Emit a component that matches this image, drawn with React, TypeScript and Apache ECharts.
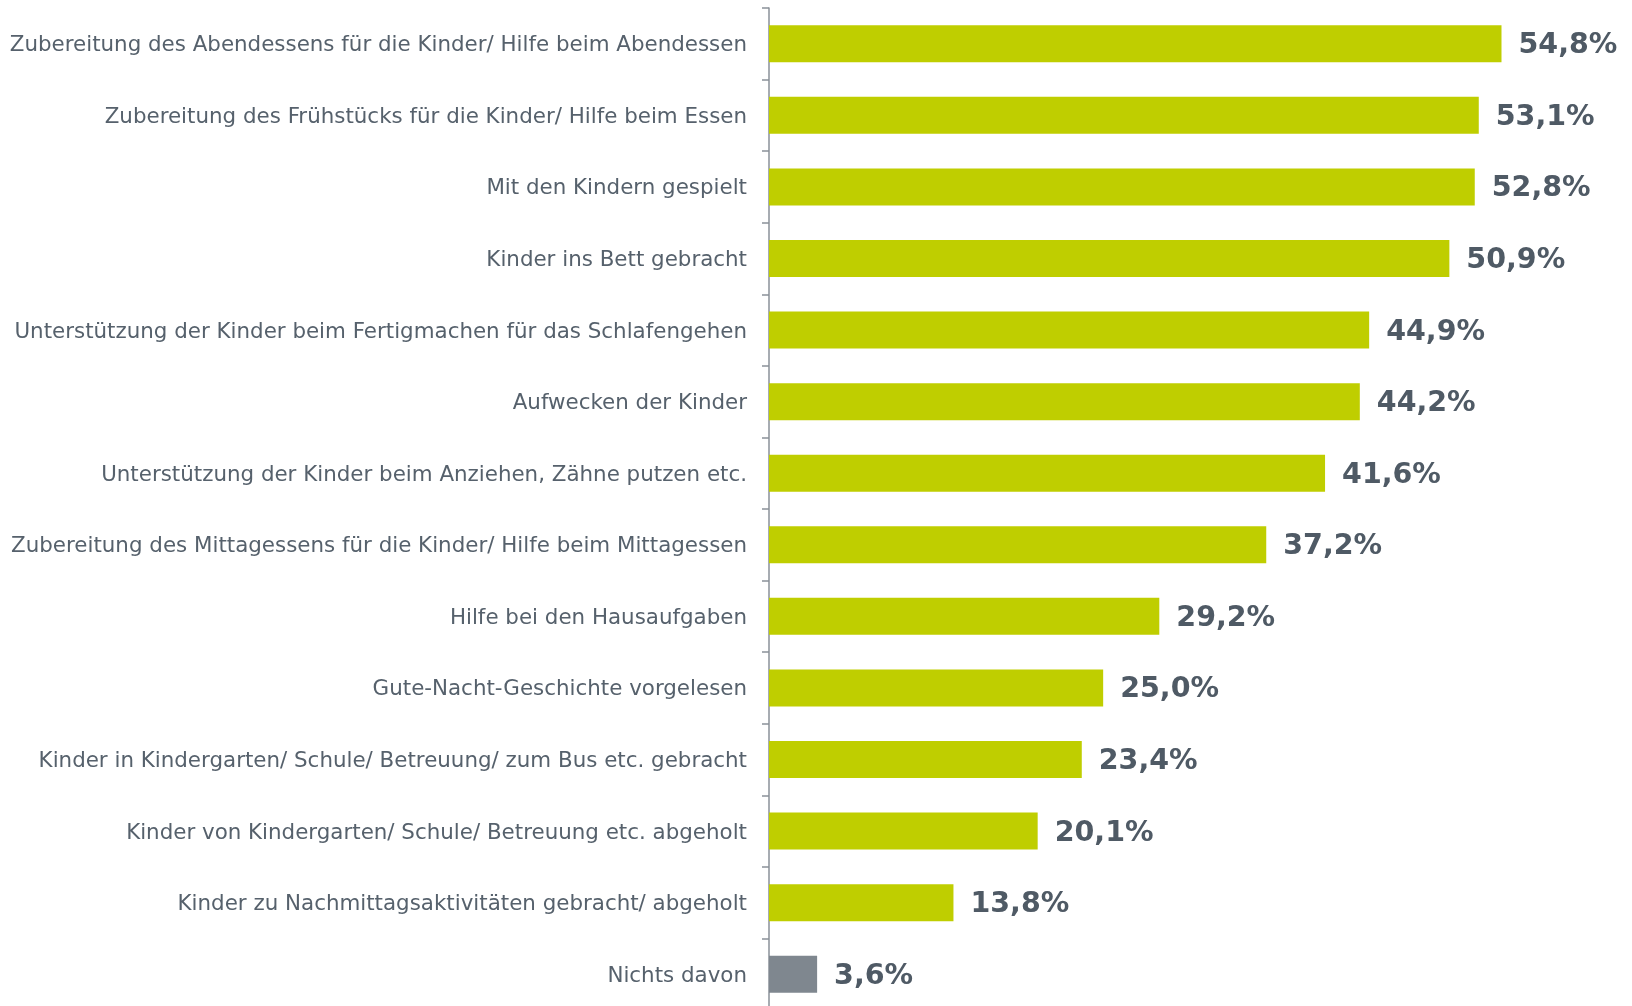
import React, { useEffect, useRef } from "react";
import * as echarts from "echarts";

const categories = [
  "Zubereitung des Abendessens für die Kinder/ Hilfe beim Abendessen",
  "Zubereitung des Frühstücks für die Kinder/ Hilfe beim Essen",
  "Mit den Kindern gespielt",
  "Kinder ins Bett gebracht",
  "Unterstützung der Kinder beim Fertigmachen für das Schlafengehen",
  "Aufwecken der Kinder",
  "Unterstützung der Kinder beim Anziehen, Zähne putzen etc.",
  "Zubereitung des Mittagessens für die Kinder/ Hilfe beim Mittagessen",
  "Hilfe bei den Hausaufgaben",
  "Gute-Nacht-Geschichte vorgelesen",
  "Kinder in Kindergarten/ Schule/ Betreuung/ zum Bus etc. gebracht",
  "Kinder von Kindergarten/ Schule/ Betreuung etc. abgeholt",
  "Kinder zu Nachmittagsaktivitäten gebracht/ abgeholt",
  "Nichts davon",
];

const values = [54.8, 53.1, 52.8, 50.9, 44.9, 44.2, 41.6, 37.2, 29.2, 25.0, 23.4, 20.1, 13.8, 3.6];

const GREEN = "#bfce00";
const GREY = "#7f878f";

export default function App() {
  const ref = useRef<HTMLDivElement>(null);
  useEffect(() => {
    document.body.style.margin = "0";
    document.body.style.overflow = "hidden";
    const chart = echarts.init(ref.current!, null, { renderer: "svg" });
    chart.setOption({
      animation: false,
      grid: { left: 769, right: 61, top: 8, bottom: 0, containLabel: false },
      xAxis: {
        type: "value",
        min: 0,
        max: 60,
        show: false,
      },
      yAxis: {
        type: "category",
        inverse: true,
        data: categories,
        axisLine: { show: true, lineStyle: { color: "#8a9098", width: 1.5 } },
        axisTick: { show: true, length: 7, lineStyle: { color: "#8a9098", width: 1.5 } },
        axisLabel: {
          margin: 22,
          fontFamily: "DejaVu Sans",
          fontSize: 21.4,
          color: "#56616c",
        },
        splitLine: { show: false },
      },
      series: [
        {
          type: "bar",
          barWidth: 37,
          data: values.map((v, i) => ({
            value: v,
            itemStyle: { color: i === values.length - 1 ? GREY : GREEN },
          })),
          label: {
            show: true,
            position: "right",
            distance: 17,
            fontFamily: "DejaVu Sans",
            fontWeight: "bold",
            fontSize: 28.5,
            color: "#4f5a65",
            formatter: (p: any) => p.value.toFixed(1).replace(".", ",") + "%",
          },
        },
      ],
    });
    return () => chart.dispose();
  }, []);
  return (
    <div
      ref={ref}
      style={{ position: "fixed", left: 0, top: 0, width: 1632, height: 1010 }}
    />
  );
}
